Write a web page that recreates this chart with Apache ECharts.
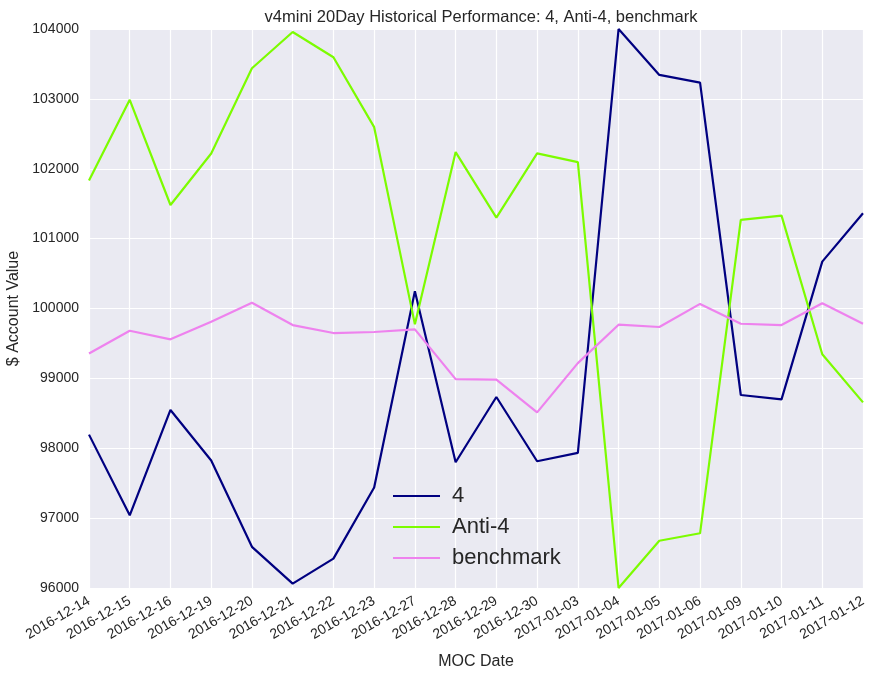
<!DOCTYPE html>
<html>
<head>
<meta charset="utf-8">
<script src="https://cdn.jsdelivr.net/npm/echarts@6/dist/echarts.min.js"></script>
<style>
html,body{margin:0;padding:0;background:#fff;}
#c{width:873px;height:678px;}
</style>
</head>
<body>
<div id="c"></div>
<script>
const categories = ['2016-12-14','2016-12-15','2016-12-16','2016-12-19','2016-12-20','2016-12-21','2016-12-22','2016-12-23','2016-12-27','2016-12-28','2016-12-29','2016-12-30','2017-01-03','2017-01-04','2017-01-05','2017-01-06','2017-01-09','2017-01-10','2017-01-11','2017-01-12'];
const series4 = [98195,97040,98548,97824,96589,96063,96420,97438,100246,97800,98733,97814,97933,104000,103343,103233,98762,98700,100671,101362];
const seriesAnti4 = [101833,102986,101481,102219,103438,103957,103595,102595,99773,102238,101300,102219,102095,96000,96676,96783,101267,101329,99346,98657];
const seriesBenchmark = [99355,99682,99559,99810,100081,99763,99649,99664,99701,98990,98981,98514,99218,99768,99735,100066,99782,99763,100076,99782];
const yMin = 96000, yMax = 104000, yStep = 1000;

const font = '"Liberation Sans", Arial, sans-serif';
const chart = echarts.init(document.getElementById('c'), null, {renderer:'canvas'});
function line(name, data, color){
  return {name, type:'line', data, symbol:'none', smooth:false,
    lineStyle:{color, width:2.2}, itemStyle:{color}, emphasis:{disabled:true}, z:2};
}
chart.setOption({
  animation:false,
  backgroundColor:'#ffffff',
  textStyle:{fontFamily:font},
  title:{text:'v4mini 20Day Historical Performance: 4, Anti-4, benchmark', left:476, textAlign:'center', top:4,
    textStyle:{fontFamily:font, fontSize:16.5, fontWeight:'normal', color:'#262626'}},
  grid:{left:89, right:10, top:29, bottom:90, show:true, backgroundColor:'#EAEAF2', borderWidth:0,
    containLabel:false, outerBoundsMode:'none'},
  legend:{orient:'vertical', left:388, top:479, itemWidth:47, itemHeight:2, itemGap:7, icon:'rect',
    textStyle:{fontFamily:font, fontSize:22, color:'#262626', lineHeight:24, padding:[0,0,0,7]},
    data:['4','Anti-4','benchmark']},
  xAxis:{type:'category', data:categories, boundaryGap:false,
    name:'MOC Date', nameLocation:'middle', nameGap:66,
    nameTextStyle:{fontFamily:font, fontSize:16, color:'#262626'},
    axisLine:{show:false}, axisTick:{show:false},
    axisLabel:{rotate:30, fontSize:14, color:'#262626', fontFamily:font, margin:12, interval:0},
    splitLine:{show:true, lineStyle:{color:'#ffffff', width:1.2}}},
  yAxis:{type:'value', min:yMin, max:yMax, interval:yStep,
    name:'$ Account Value', nameLocation:'middle', nameGap:64,
    nameTextStyle:{fontFamily:font, fontSize:16, color:'#262626'},
    axisLine:{show:false}, axisTick:{show:false},
    axisLabel:{fontSize:14, color:'#262626', fontFamily:font, margin:10, formatter:v => String(v)},
    splitLine:{show:true, lineStyle:{color:'#ffffff', width:1.2}}},
  series:[
    line('4', series4, '#000080'),
    line('Anti-4', seriesAnti4, '#7CFC00'),
    line('benchmark', seriesBenchmark, '#EE82EE')
  ]
});
</script>
</body>
</html>
